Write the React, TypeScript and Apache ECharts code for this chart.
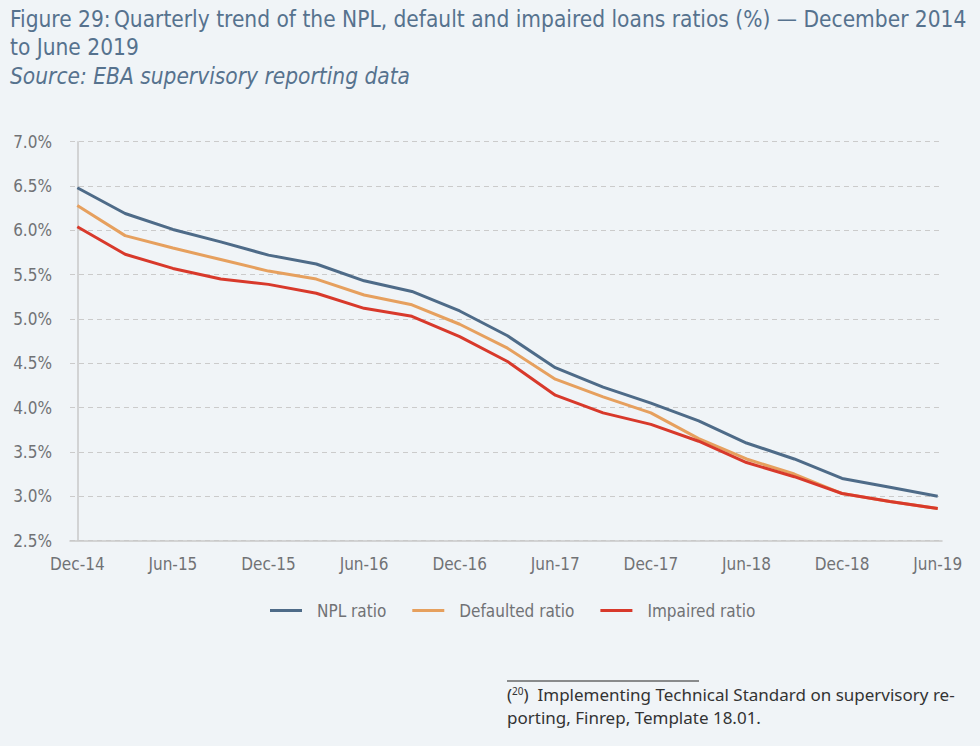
import React, { useEffect, useRef } from "react";
import * as echarts from "echarts";

const quarters = [
  "Dec-14", "Mar-15", "Jun-15", "Sep-15", "Dec-15", "Mar-16", "Jun-16", "Sep-16", "Dec-16", "Mar-17",
  "Jun-17", "Sep-17", "Dec-17", "Mar-18", "Jun-18", "Sep-18", "Dec-18", "Mar-19", "Jun-19",
];
const nplRatio = [6.48, 6.19, 6.01, 5.87, 5.72, 5.62, 5.43, 5.31, 5.09, 4.81, 4.45, 4.23, 4.05, 3.85, 3.6, 3.42, 3.2, 3.1, 3.0];
const defaultedRatio = [6.28, 5.94, 5.8, 5.67, 5.54, 5.45, 5.27, 5.16, 4.94, 4.67, 4.32, 4.12, 3.94, 3.65, 3.42, 3.25, 3.03, 2.94, 2.86];
const impairedRatio = [6.04, 5.73, 5.57, 5.45, 5.39, 5.29, 5.12, 5.03, 4.8, 4.52, 4.14, 3.94, 3.81, 3.62, 3.38, 3.22, 3.03, 2.94, 2.86];
const labelPositions = [0, 2, 4, 6, 8, 10, 12, 14, 16, 18];

const NARROW = "'Liberation Sans Narrow', 'DejaVu Sans Condensed', 'Noto Sans', sans-serif";
const AXIS_TEXT = "#707275";
const TITLE_COLOR = "#56728e";

export default function App() {
  const ref = useRef<HTMLDivElement>(null);
  useEffect(() => {
    document.body.style.margin = "0";
    const chart = echarts.init(ref.current!, null, { renderer: "svg" });
    const toPairs = (arr: number[]) => arr.map((v, i) => [i, v]);
    chart.setOption({
      animation: false,
      backgroundColor: "#f0f4f7",
      grid: { left: 70, right: 38, top: 141.7, bottom: 205.5, containLabel: false },
      xAxis: {
        type: "value",
        min: -0.153,
        max: 18.09,
        axisLine: { show: true, lineStyle: { color: "#c9c9c9", width: 1.5 } },
        axisTick: { show: false },
        splitLine: { show: false },
        axisLabel: {
          customValues: labelPositions,
          formatter: (v: number) => quarters[Math.round(v)] ?? "",
          color: AXIS_TEXT,
          fontFamily: NARROW,
          fontSize: 17,
          margin: 15,
        },
      },
      yAxis: {
        type: "value",
        min: 2.5,
        max: 7,
        interval: 0.5,
        axisLine: { show: true, lineStyle: { color: "#c9c9c9", width: 1.5 } },
        axisTick: { show: false },
        splitLine: { show: true, lineStyle: { color: "#cbcbcb", type: [5, 4], width: 1.2 } },
        axisLabel: {
          formatter: (v: number) => v.toFixed(1) + "%",
          color: AXIS_TEXT,
          fontFamily: NARROW,
          fontSize: 17,
          margin: 18,
        },
      },
      legend: {
        top: 597,
        left: 265,
        icon: "rect",
        itemWidth: 32,
        itemHeight: 3,
        itemGap: 26,
        textStyle: { color: AXIS_TEXT, fontFamily: NARROW, fontSize: 17, padding: [0, 0, 0, 10] },
        data: ["NPL ratio", "Defaulted ratio", "Impaired ratio"],
      },
      series: [
        { name: "NPL ratio", type: "line", data: toPairs(nplRatio), symbol: "none", lineStyle: { width: 3, color: "#4e6b88" }, itemStyle: { color: "#4e6b88" } },
        { name: "Defaulted ratio", type: "line", data: toPairs(defaultedRatio), symbol: "none", lineStyle: { width: 3, color: "#e6a05e" }, itemStyle: { color: "#e6a05e" } },
        { name: "Impaired ratio", type: "line", data: toPairs(impairedRatio), symbol: "none", lineStyle: { width: 3, color: "#d8392b" }, itemStyle: { color: "#d8392b" } },
      ],
      graphic: [
        {
          type: "text",
          left: 10,
          top: 7,
          style: {
            text: "{b|Figure 29:} {n|Quarterly trend of the NPL, default and impaired loans ratios (%) — December 2014}",
            rich: {
              b: { fontFamily: NARROW, fontSize: 22.5, fontWeight: 500, fill: TITLE_COLOR },
              n: { fontFamily: NARROW, fontSize: 22.5, fill: TITLE_COLOR },
            },
          },
        },
        {
          type: "text",
          left: 10,
          top: 35,
          style: { text: "to June 2019", fontFamily: NARROW, fontSize: 22.5, fill: TITLE_COLOR },
        },
        {
          type: "text",
          left: 10,
          top: 64,
          style: { text: "Source: EBA supervisory reporting data", fontFamily: NARROW, fontSize: 22.5, fontStyle: "italic", fill: TITLE_COLOR },
        },
        {
          type: "line",
          shape: { x1: 507, y1: 681, x2: 699, y2: 681 },
          style: { stroke: "#222222", lineWidth: 1.2 },
        },
        {
          type: "text",
          left: 507,
          top: 686,
          style: {
            text: "({s|20})  Implementing Technical Standard on supervisory re-",
            fontFamily: "'Noto Sans', sans-serif",
            fontSize: 17,
            fill: "#333333",
            rich: { s: { fontSize: 10, fontFamily: "'Noto Sans', sans-serif", fill: "#333333", verticalAlign: "top", padding: [0, 0, 7, 0] } },
          },
        },
        {
          type: "text",
          left: 507,
          top: 709,
          style: { text: "porting, Finrep, Template 18.01.", fontFamily: "'Noto Sans', sans-serif", fontSize: 17, fill: "#333333" },
        },
      ],
    });
    return () => chart.dispose();
  }, []);
  return <div ref={ref} style={{ position: "absolute", left: 0, top: 0, width: 980, height: 746 }} />;
}
